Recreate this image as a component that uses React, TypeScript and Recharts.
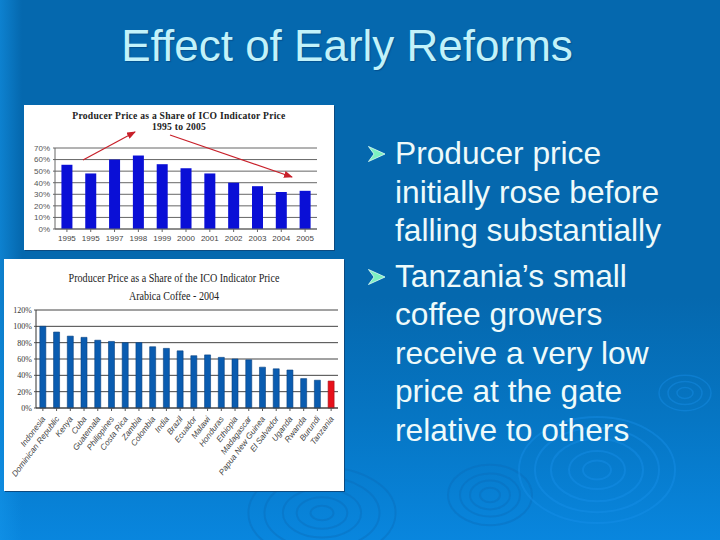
import { Bar, BarChart, CartesianGrid, Cell, XAxis, YAxis } from "recharts";

const years = ["1995", "1995", "1997", "1998", "1999", "2000", "2001", "2002", "2003", "2004", "2005"];
const yearShares = [55.5, 48, 60, 63.5, 56, 52.5, 48, 40, 37, 32, 33];
const yearTicks = [0, 10, 20, 30, 40, 50, 60, 70];

const countries = [
  "Indonesia", "Dominican Republic", "Kenya", "Cuba", "Guatemala", "Philippines", "Costa Rica", "Zambia",
  "Colombia", "India", "Brazil", "Ecuador", "Malawi", "Honduras", "Ethiopia", "Madagascar",
  "Papua New Guinea", "El Salvador", "Uganda", "Rwanda", "Burundi", "Tanzania",
];
const countryShares = [100, 93, 88, 86.5, 83, 81.5, 80, 80, 75, 73, 70, 64, 65, 62, 60, 59, 50, 48, 46.5, 36, 34, 33];
const countryTicks = [0, 20, 40, 60, 80, 100, 120];

const bullets = [
  ["Producer price", "initially rose before", "falling substantially"],
  ["Tanzania’s small", "coffee growers", "receive a very low", "price at the gate", "relative to others"],
];

const yearData = years.map((year, i) => ({ key: i, year, share: yearShares[i] }));
const countryData = countries.map((country, i) => ({ country, share: countryShares[i] }));

const pct = (v: number) => v + "%";

function CountryTick({ x, y, payload }: any) {
  return (
    <text
      x={x + 3}
      y={y + 6}
      textAnchor="end"
      fontSize={8.2}
      fontStyle="italic"
      fontFamily="Liberation Sans"
      fill="#444"
      transform={`rotate(-53 ${x + 3} ${y + 6})`}
    >
      {payload.value}
    </text>
  );
}

export default function App() {
  return (
    <div
      style={{
        position: "fixed",
        left: 0,
        top: 0,
        width: 720,
        height: 540,
        overflow: "hidden",
        background:
          "linear-gradient(90deg, rgba(20,150,235,0.55) 0px, rgba(20,150,235,0) 22px), linear-gradient(180deg, #0568ae 0%, #0568ae 55%, #0676c4 78%, #0986de 100%)",
        fontFamily: "Liberation Sans",
      }}
    >
      {/* water ripples */}
      <svg width={720} height={540} style={{ position: "absolute", left: 0, top: 0 }} fill="none">
        <g stroke="#0a6cb8" strokeOpacity={0.4}>
          {[10, 22, 34, 50, 64].map((r) => (
            <ellipse key={r} cx={322} cy={513} rx={r * 1.15} ry={r * 0.72} strokeWidth={2} />
          ))}
          {[10, 20, 30, 42].map((r) => (
            <ellipse key={r} cx={490} cy={495} rx={r} ry={r * 0.72} strokeWidth={2} />
          ))}
        </g>
        <g stroke="#1a92ea" strokeOpacity={0.4}>
          {[14, 28, 46, 62, 78].map((r) => (
            <ellipse key={r} cx={597} cy={470} rx={r} ry={r * 0.68} strokeWidth={2} />
          ))}
          {[8, 17, 26].map((r) => (
            <ellipse key={r} cx={685} cy={393} rx={r} ry={r * 0.68} strokeWidth={1.5} />
          ))}
        </g>
      </svg>

      <div
        style={{
          position: "absolute",
          left: 0,
          top: 21,
          width: 694,
          textAlign: "center",
          fontSize: 44,
          lineHeight: "50px",
          color: "#c2f2fa",
          textShadow: "1px 1px 1px #04508e",
          whiteSpace: "nowrap",
        }}
      >
        Effect of Early Reforms
      </div>

      <div style={{ position: "absolute", left: 24, top: 105, width: 310, height: 145, background: "#fff", boxShadow: "1px 1px 0 #0c4a80" }}>
        <div style={{ position: "absolute", left: 0, top: 5, width: 310, textAlign: "center", fontFamily: "Liberation Serif", fontWeight: "bold", fontSize: 9.6, letterSpacing: 0.25, lineHeight: "11px", color: "#222" }}>
          Producer Price as a Share of ICO Indicator Price
          <br />
          1995 to 2005
        </div>
        <BarChart
          width={310}
          height={145}
          data={yearData}
          margin={{ top: 43, right: 17, bottom: 0, left: 0 }}
          barCategoryGap="27%"
          style={{ position: "absolute", left: 0, top: 0 }}
        >
          <CartesianGrid vertical={false} stroke="#666" strokeWidth={1} />
          <XAxis dataKey="key" height={21} tickFormatter={(i: number) => years[i]} interval={0} tick={{ fontSize: 8, fill: "#444", fontFamily: "Liberation Sans" }} tickLine={{ stroke: "#666" }} axisLine={{ stroke: "#666" }} tickSize={3} tickMargin={3} />
          <YAxis domain={[0, 70]} ticks={yearTicks} interval={0} tickFormatter={pct} width={31} tick={{ fontSize: 8, fill: "#555", fontFamily: "Liberation Sans" }} tickLine={{ stroke: "#666" }} axisLine={{ stroke: "#666" }} tickSize={2} tickMargin={3} />
          <Bar dataKey="share" fill="#0a0fd6" isAnimationActive={false} />
        </BarChart>
        {/* hand-drawn arrows on the slide */}
        <svg width={310} height={145} style={{ position: "absolute", left: 0, top: 0 }}>
          <defs>
            <marker id="head" markerWidth="9" markerHeight="7" refX="8" refY="3.5" orient="auto" markerUnits="userSpaceOnUse">
              <path d="M0 0L9 3.5L0 7Z" fill="#c8202a" />
            </marker>
          </defs>
          <line x1={59} y1={55} x2={111} y2={27} stroke="#c8202a" strokeWidth={1.2} markerEnd="url(#head)" />
          <line x1={146} y1={30} x2={268} y2={72} stroke="#c8202a" strokeWidth={1.2} markerEnd="url(#head)" />
        </svg>
      </div>

      <div style={{ position: "absolute", left: 4, top: 259, width: 340, height: 232, background: "#fff", boxShadow: "1px 1px 0 #0c4a80" }}>
        <div style={{ position: "absolute", left: 0, top: 10, width: 340, textAlign: "center", fontFamily: "Liberation Serif", fontSize: 12, lineHeight: "18px", color: "#222", transform: "scaleX(0.84)" }}>
          Producer Price as a Share of the ICO Indicator Price
          <br />
          Arabica Coffee - 2004
        </div>
        <BarChart
          width={340}
          height={232}
          data={countryData}
          margin={{ top: 51, right: 6, bottom: 0, left: 0 }}
          barCategoryGap="28%"
          style={{ position: "absolute", left: 0, top: 0 }}
        >
          <CartesianGrid vertical={false} stroke="#444" strokeWidth={1} />
          <XAxis dataKey="country" interval={0} height={83} tick={<CountryTick />} tickLine={{ stroke: "#555" }} axisLine={{ stroke: "#444" }} tickSize={3} />
          <YAxis domain={[0, 120]} ticks={countryTicks} interval={0} tickFormatter={pct} width={32} tick={{ fontSize: 8, fill: "#333", fontFamily: "Liberation Serif" }} tickLine={{ stroke: "#555" }} axisLine={{ stroke: "#333" }} tickSize={2} tickMargin={2} />
          <Bar dataKey="share" fill="#0a5cb0" stroke="#073f80" strokeWidth={0.6} isAnimationActive={false}>
            {countries.map((c) => (
              <Cell key={c} fill={c === "Tanzania" ? "#e8101a" : "#0a5cb0"} stroke={c === "Tanzania" ? "#a01018" : "#073f80"} />
            ))}
          </Bar>
        </BarChart>
      </div>

      <div style={{ position: "absolute", left: 395, top: 134, color: "#eefafa", fontSize: 31.7, lineHeight: "38.5px", whiteSpace: "nowrap" }}>
        {bullets.map((lines, i) => (
          <div key={i} style={{ position: "relative", marginBottom: 7 }}>
            <svg width={18} height={17} style={{ position: "absolute", left: -27, top: 12 }}>
              <path d="M0.5 0.5L17 8L0.5 15.5L6 8Z" fill="#7df0c0" stroke="#e4fff4" strokeWidth={0.8} />
            </svg>
            {lines.map((line) => (
              <div key={line}>{line}</div>
            ))}
          </div>
        ))}
      </div>
    </div>
  );
}
